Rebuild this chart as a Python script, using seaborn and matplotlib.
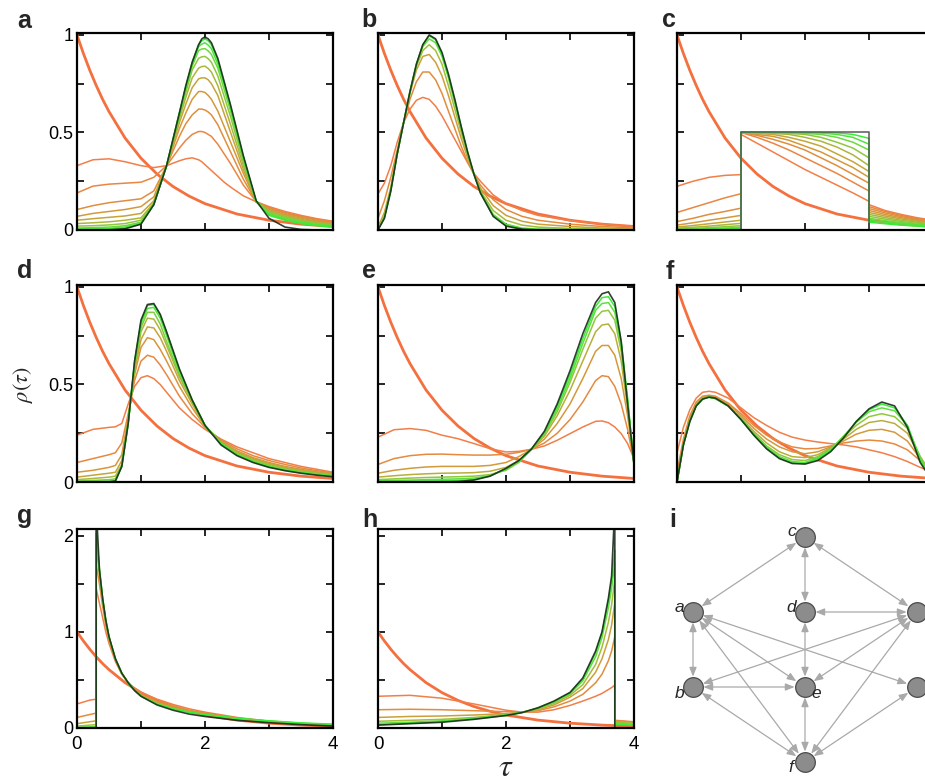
import numpy as np
import pandas as pd
import matplotlib
matplotlib.use("Agg")
import matplotlib.pyplot as plt
from matplotlib.colors import LinearSegmentedColormap
import seaborn as sns

# ---------------- data ----------------
TAU_EXP = [0, 0.1, 0.2, 0.3, 0.4, 0.5, 0.75, 1.0, 1.25, 1.5, 1.75, 2.0, 2.5, 3.0, 3.5, 4.0]
RHO_EXP = [1.0, 0.905, 0.819, 0.741, 0.670, 0.607, 0.472, 0.368, 0.287, 0.223, 0.174, 0.135, 0.082, 0.050, 0.030, 0.018]

TAU_A = [0, 0.25, 0.5, 0.75, 1.0, 1.2, 1.4, 1.6, 1.7, 1.8, 1.9, 1.95, 2.0, 2.05, 2.1, 2.2, 2.3, 2.4, 2.6, 2.8, 3.0, 3.25, 3.5, 3.75, 4.0]
TARGET_A = [0, 0, 0.001, 0.006, 0.03, 0.13, 0.33, 0.60, 0.74, 0.86, 0.95, 0.98, 0.99, 0.98, 0.96, 0.88, 0.76, 0.64, 0.38, 0.15, 0.06, 0.015, 0.003, 0, 0]
STEPS_A = [
    [0.33, 0.36, 0.365, 0.35, 0.33, 0.32, 0.33, 0.355, 0.365, 0.37, 0.36, 0.35, 0.335, 0.32, 0.305, 0.275, 0.245, 0.22, 0.175, 0.145, 0.12, 0.095, 0.075, 0.058, 0.045],
    [0.19, 0.225, 0.235, 0.24, 0.245, 0.27, 0.33, 0.42, 0.46, 0.49, 0.505, 0.505, 0.50, 0.49, 0.48, 0.44, 0.39, 0.34, 0.23, 0.145, 0.115, 0.09, 0.07, 0.055, 0.042],
    [0.105, 0.125, 0.14, 0.15, 0.16, 0.20, 0.33, 0.48, 0.545, 0.59, 0.62, 0.62, 0.615, 0.605, 0.59, 0.54, 0.47, 0.40, 0.26, 0.145, 0.11, 0.085, 0.066, 0.05, 0.038],
    [0.07, 0.085, 0.095, 0.105, 0.12, 0.17, 0.33, 0.52, 0.60, 0.67, 0.71, 0.71, 0.705, 0.69, 0.67, 0.61, 0.53, 0.45, 0.29, 0.145, 0.105, 0.08, 0.06, 0.045, 0.034],
    [0.05, 0.058, 0.065, 0.072, 0.085, 0.15, 0.33, 0.55, 0.645, 0.73, 0.775, 0.78, 0.78, 0.77, 0.75, 0.69, 0.595, 0.50, 0.31, 0.145, 0.10, 0.075, 0.055, 0.041, 0.03],
    [0.033, 0.037, 0.042, 0.05, 0.062, 0.14, 0.33, 0.57, 0.68, 0.78, 0.83, 0.838, 0.84, 0.828, 0.81, 0.74, 0.64, 0.54, 0.33, 0.145, 0.095, 0.07, 0.05, 0.037, 0.027],
    [0.02, 0.022, 0.026, 0.033, 0.05, 0.135, 0.33, 0.58, 0.705, 0.82, 0.88, 0.888, 0.89, 0.878, 0.86, 0.79, 0.685, 0.58, 0.35, 0.145, 0.09, 0.065, 0.046, 0.033, 0.024],
    [0.01, 0.012, 0.015, 0.022, 0.04, 0.13, 0.33, 0.59, 0.72, 0.84, 0.92, 0.928, 0.93, 0.918, 0.90, 0.83, 0.72, 0.61, 0.36, 0.145, 0.085, 0.06, 0.042, 0.03, 0.021],
    [0.005, 0.006, 0.008, 0.015, 0.035, 0.13, 0.33, 0.60, 0.73, 0.85, 0.94, 0.953, 0.96, 0.948, 0.93, 0.85, 0.745, 0.62, 0.37, 0.145, 0.08, 0.055, 0.038, 0.026, 0.018],
    [0.002, 0.003, 0.004, 0.01, 0.032, 0.13, 0.33, 0.60, 0.735, 0.86, 0.95, 0.97, 0.98, 0.97, 0.95, 0.87, 0.755, 0.63, 0.375, 0.148, 0.075, 0.05, 0.033, 0.022, 0.015],
]

TAU_B = [0, 0.1, 0.2, 0.3, 0.4, 0.5, 0.6, 0.7, 0.8, 0.9, 1.0, 1.1, 1.2, 1.3, 1.4, 1.5, 1.6, 1.8, 2.0, 2.25, 2.5, 3.0, 3.5, 4.0]
TARGET_B = [0, 0.06, 0.20, 0.39, 0.55, 0.71, 0.85, 0.95, 1.0, 0.98, 0.91, 0.80, 0.67, 0.53, 0.40, 0.285, 0.19, 0.07, 0.02, 0.004, 0, 0, 0, 0]
STEPS_B = [
    [0.185, 0.24, 0.33, 0.45, 0.55, 0.62, 0.665, 0.68, 0.67, 0.635, 0.585, 0.525, 0.465, 0.405, 0.345, 0.29, 0.25, 0.18, 0.135, 0.10, 0.075, 0.048, 0.03, 0.019],
    [0.06, 0.15, 0.27, 0.41, 0.55, 0.67, 0.76, 0.81, 0.81, 0.77, 0.70, 0.61, 0.52, 0.43, 0.35, 0.285, 0.23, 0.155, 0.105, 0.07, 0.05, 0.03, 0.018, 0.01],
    [0.015, 0.09, 0.22, 0.39, 0.55, 0.70, 0.82, 0.89, 0.90, 0.86, 0.79, 0.69, 0.58, 0.47, 0.37, 0.285, 0.215, 0.125, 0.075, 0.045, 0.03, 0.018, 0.01, 0.006],
    [0.005, 0.07, 0.21, 0.39, 0.55, 0.71, 0.84, 0.92, 0.95, 0.92, 0.85, 0.74, 0.62, 0.50, 0.385, 0.285, 0.20, 0.10, 0.05, 0.025, 0.015, 0.008, 0.004, 0.002],
    [0.002, 0.065, 0.205, 0.39, 0.55, 0.71, 0.85, 0.94, 0.98, 0.96, 0.89, 0.78, 0.65, 0.52, 0.39, 0.285, 0.195, 0.08, 0.03, 0.01, 0.005, 0.003, 0.002, 0.001],
    [0, 0.062, 0.20, 0.39, 0.55, 0.71, 0.85, 0.95, 0.995, 0.975, 0.90, 0.79, 0.665, 0.53, 0.40, 0.285, 0.19, 0.073, 0.024, 0.006, 0.002, 0.001, 0, 0],
]

TAU_C = [0, 0.25, 0.5, 0.75, 1.0, 1.0, 1.25, 1.5, 1.75, 2.0, 2.25, 2.5, 2.75, 3.0, 3.0, 3.25, 3.5, 3.75, 4.0]
TAU_C_TARGET = [0, 1, 1, 3, 3, 4]
TARGET_C = [0, 0, 0.5, 0.5, 0, 0]
STEPS_C = [
    [0.224, 0.25, 0.27, 0.28, 0.284, 0.49, 0.445, 0.40, 0.355, 0.31, 0.27, 0.23, 0.19, 0.147, 0.13, 0.10, 0.08, 0.063, 0.05],
    [0.09, 0.115, 0.14, 0.165, 0.186, 0.5, 0.475, 0.445, 0.41, 0.37, 0.33, 0.29, 0.245, 0.20, 0.12, 0.095, 0.075, 0.058, 0.046],
    [0.043, 0.06, 0.08, 0.095, 0.112, 0.5, 0.485, 0.465, 0.44, 0.41, 0.37, 0.33, 0.285, 0.24, 0.11, 0.088, 0.069, 0.054, 0.042],
    [0.025, 0.037, 0.05, 0.062, 0.075, 0.5, 0.49, 0.48, 0.46, 0.43, 0.40, 0.36, 0.32, 0.27, 0.10, 0.08, 0.063, 0.05, 0.039],
    [0.015, 0.023, 0.032, 0.041, 0.05, 0.5, 0.495, 0.49, 0.475, 0.455, 0.43, 0.39, 0.35, 0.30, 0.09, 0.072, 0.057, 0.045, 0.035],
    [0.009, 0.014, 0.02, 0.027, 0.034, 0.5, 0.5, 0.495, 0.49, 0.475, 0.455, 0.425, 0.385, 0.33, 0.08, 0.064, 0.05, 0.04, 0.031],
    [0.005, 0.008, 0.012, 0.017, 0.022, 0.5, 0.5, 0.5, 0.495, 0.49, 0.475, 0.45, 0.42, 0.37, 0.07, 0.056, 0.044, 0.035, 0.027],
    [0.003, 0.005, 0.007, 0.01, 0.014, 0.5, 0.5, 0.5, 0.5, 0.495, 0.49, 0.475, 0.45, 0.41, 0.06, 0.048, 0.038, 0.03, 0.023],
    [0.001, 0.002, 0.004, 0.006, 0.008, 0.5, 0.5, 0.5, 0.5, 0.5, 0.497, 0.49, 0.475, 0.44, 0.05, 0.04, 0.032, 0.025, 0.019],
    [0, 0.001, 0.002, 0.003, 0.004, 0.5, 0.5, 0.5, 0.5, 0.5, 0.5, 0.498, 0.49, 0.47, 0.04, 0.032, 0.025, 0.02, 0.015],
]

TAU_D = [0, 0.25, 0.5, 0.6, 0.7, 0.8, 0.9, 1.0, 1.1, 1.2, 1.3, 1.4, 1.6, 1.8, 2.0, 2.25, 2.5, 2.75, 3.0, 3.25, 3.5, 3.75, 4.0]
TARGET_D = [0, 0, 0, 0.005, 0.08, 0.30, 0.62, 0.83, 0.91, 0.915, 0.86, 0.77, 0.58, 0.42, 0.29, 0.19, 0.135, 0.10, 0.075, 0.058, 0.045, 0.035, 0.027]
STEPS_D = [
    [0.24, 0.27, 0.28, 0.283, 0.30, 0.40, 0.49, 0.535, 0.545, 0.53, 0.50, 0.46, 0.38, 0.32, 0.27, 0.22, 0.18, 0.15, 0.12, 0.10, 0.08, 0.065, 0.05],
    [0.10, 0.12, 0.14, 0.15, 0.20, 0.35, 0.52, 0.62, 0.65, 0.64, 0.60, 0.55, 0.44, 0.35, 0.28, 0.215, 0.17, 0.135, 0.11, 0.09, 0.072, 0.058, 0.046],
    [0.05, 0.06, 0.075, 0.085, 0.14, 0.33, 0.55, 0.69, 0.74, 0.73, 0.68, 0.62, 0.49, 0.38, 0.285, 0.21, 0.16, 0.125, 0.10, 0.08, 0.065, 0.052, 0.042],
    [0.025, 0.035, 0.045, 0.05, 0.11, 0.32, 0.57, 0.73, 0.795, 0.79, 0.74, 0.67, 0.52, 0.40, 0.285, 0.205, 0.155, 0.12, 0.095, 0.075, 0.06, 0.048, 0.039],
    [0.012, 0.018, 0.025, 0.03, 0.09, 0.31, 0.59, 0.77, 0.84, 0.835, 0.78, 0.70, 0.54, 0.41, 0.285, 0.20, 0.15, 0.115, 0.09, 0.07, 0.056, 0.045, 0.036],
    [0.005, 0.008, 0.012, 0.016, 0.085, 0.305, 0.60, 0.79, 0.87, 0.87, 0.81, 0.72, 0.55, 0.415, 0.29, 0.20, 0.145, 0.11, 0.085, 0.066, 0.052, 0.042, 0.034],
    [0.002, 0.003, 0.005, 0.008, 0.08, 0.30, 0.61, 0.81, 0.89, 0.895, 0.84, 0.75, 0.565, 0.42, 0.29, 0.20, 0.14, 0.105, 0.08, 0.062, 0.05, 0.04, 0.032],
    [0, 0, 0.001, 0.003, 0.08, 0.30, 0.62, 0.82, 0.905, 0.91, 0.855, 0.765, 0.575, 0.42, 0.29, 0.195, 0.138, 0.102, 0.077, 0.06, 0.047, 0.037, 0.03],
]

TAU_E = [0, 0.25, 0.5, 0.75, 1.0, 1.25, 1.5, 1.75, 2.0, 2.2, 2.4, 2.6, 2.8, 3.0, 3.2, 3.4, 3.5, 3.6, 3.7, 3.8, 3.9, 4.0]
TARGET_E = [0, 0, 0, 0, 0, 0.002, 0.01, 0.03, 0.07, 0.11, 0.17, 0.26, 0.40, 0.57, 0.76, 0.92, 0.965, 0.975, 0.92, 0.72, 0.40, 0.09]
STEPS_E = [
    [0.23, 0.268, 0.274, 0.265, 0.24, 0.222, 0.197, 0.171, 0.154, 0.157, 0.168, 0.185, 0.214, 0.248, 0.282, 0.311, 0.313, 0.304, 0.282, 0.248, 0.197, 0.12],
    [0.09, 0.12, 0.135, 0.142, 0.143, 0.14, 0.138, 0.138, 0.142, 0.152, 0.168, 0.20, 0.25, 0.32, 0.41, 0.52, 0.545, 0.54, 0.49, 0.40, 0.27, 0.10],
    [0.045, 0.06, 0.07, 0.077, 0.08, 0.08, 0.08, 0.085, 0.10, 0.13, 0.168, 0.22, 0.30, 0.40, 0.53, 0.67, 0.70, 0.70, 0.65, 0.53, 0.34, 0.10],
    [0.025, 0.032, 0.038, 0.042, 0.045, 0.046, 0.048, 0.055, 0.075, 0.11, 0.168, 0.235, 0.34, 0.47, 0.62, 0.77, 0.805, 0.81, 0.76, 0.62, 0.38, 0.095],
    [0.012, 0.016, 0.02, 0.023, 0.025, 0.027, 0.03, 0.038, 0.06, 0.10, 0.168, 0.245, 0.36, 0.51, 0.68, 0.84, 0.875, 0.88, 0.83, 0.67, 0.41, 0.09],
    [0.006, 0.008, 0.01, 0.012, 0.014, 0.016, 0.02, 0.033, 0.065, 0.105, 0.168, 0.25, 0.375, 0.53, 0.71, 0.88, 0.915, 0.92, 0.87, 0.70, 0.42, 0.09],
    [0.002, 0.003, 0.004, 0.005, 0.006, 0.008, 0.013, 0.03, 0.068, 0.107, 0.17, 0.255, 0.39, 0.55, 0.735, 0.90, 0.945, 0.95, 0.90, 0.72, 0.43, 0.09],
]

TAU_F = [0, 0.1, 0.2, 0.3, 0.4, 0.5, 0.6, 0.8, 1.0, 1.2, 1.4, 1.6, 1.8, 2.0, 2.2, 2.4, 2.6, 2.8, 3.0, 3.2, 3.4, 3.6, 3.8, 4.0]
TARGET_F = [0, 0.19, 0.31, 0.39, 0.425, 0.435, 0.43, 0.39, 0.32, 0.24, 0.17, 0.12, 0.095, 0.092, 0.11, 0.155, 0.225, 0.31, 0.375, 0.41, 0.39, 0.28, 0.10, 0.0]
STEPS_F = [
    [0.15, 0.28, 0.37, 0.43, 0.46, 0.465, 0.46, 0.43, 0.38, 0.33, 0.29, 0.255, 0.23, 0.215, 0.205, 0.197, 0.19, 0.18, 0.165, 0.15, 0.13, 0.105, 0.075, 0.05],
    [0.05, 0.22, 0.34, 0.41, 0.44, 0.445, 0.44, 0.405, 0.35, 0.29, 0.24, 0.205, 0.18, 0.17, 0.172, 0.185, 0.20, 0.21, 0.215, 0.21, 0.195, 0.165, 0.11, 0.06],
    [0, 0.2, 0.33, 0.40, 0.435, 0.44, 0.435, 0.40, 0.34, 0.275, 0.22, 0.18, 0.155, 0.145, 0.155, 0.18, 0.21, 0.245, 0.265, 0.27, 0.255, 0.21, 0.12, 0.04],
    [0, 0.195, 0.32, 0.395, 0.43, 0.437, 0.43, 0.39, 0.33, 0.26, 0.20, 0.155, 0.13, 0.125, 0.14, 0.175, 0.22, 0.27, 0.305, 0.315, 0.30, 0.25, 0.13, 0.03],
    [0, 0.19, 0.315, 0.39, 0.428, 0.435, 0.428, 0.39, 0.325, 0.25, 0.185, 0.14, 0.115, 0.11, 0.13, 0.17, 0.23, 0.29, 0.335, 0.35, 0.335, 0.275, 0.13, 0.02],
    [0, 0.19, 0.31, 0.39, 0.426, 0.435, 0.427, 0.39, 0.322, 0.245, 0.178, 0.13, 0.105, 0.10, 0.125, 0.165, 0.235, 0.305, 0.36, 0.38, 0.365, 0.29, 0.12, 0.01],
    [0, 0.19, 0.31, 0.39, 0.425, 0.435, 0.428, 0.39, 0.32, 0.242, 0.172, 0.123, 0.098, 0.095, 0.118, 0.16, 0.225, 0.31, 0.37, 0.40, 0.38, 0.29, 0.11, 0.005],
]

TAU_G = [0, 0.1, 0.2, 0.3, 0.3, 0.35, 0.4, 0.45, 0.5, 0.6, 0.7, 0.8, 0.9, 1.0, 1.25, 1.5, 1.75, 2.0, 2.5, 3.0, 3.5, 4.0]
TARGET_G = [0, 0, 0, 0, 2.3, 1.65, 1.35, 1.12, 0.95, 0.72, 0.57, 0.47, 0.39, 0.33, 0.24, 0.185, 0.145, 0.12, 0.08, 0.055, 0.035, 0.02]
STEPS_G = [
    [0.25, 0.27, 0.29, 0.30, 1.45, 1.3, 1.15, 1.0, 0.88, 0.69, 0.56, 0.475, 0.41, 0.37, 0.30, 0.245, 0.20, 0.165, 0.11, 0.07, 0.04, 0.022],
    [0.11, 0.125, 0.14, 0.155, 1.7, 1.5, 1.27, 1.07, 0.92, 0.71, 0.565, 0.472, 0.40, 0.35, 0.28, 0.23, 0.185, 0.155, 0.10, 0.065, 0.042, 0.028],
    [0.045, 0.055, 0.065, 0.075, 1.9, 1.6, 1.33, 1.1, 0.94, 0.715, 0.567, 0.47, 0.395, 0.34, 0.265, 0.215, 0.175, 0.145, 0.10, 0.068, 0.045, 0.03],
    [0.02, 0.025, 0.03, 0.035, 2.0, 1.63, 1.34, 1.11, 0.945, 0.718, 0.568, 0.47, 0.392, 0.335, 0.255, 0.205, 0.168, 0.14, 0.10, 0.07, 0.048, 0.033],
    [0.008, 0.01, 0.012, 0.015, 2.03, 1.65, 1.35, 1.12, 0.95, 0.72, 0.57, 0.47, 0.39, 0.333, 0.25, 0.2, 0.165, 0.14, 0.10, 0.072, 0.05, 0.036],
    [0.002, 0.003, 0.004, 0.005, 2.05, 1.66, 1.35, 1.12, 0.95, 0.72, 0.57, 0.468, 0.388, 0.33, 0.248, 0.198, 0.165, 0.14, 0.102, 0.075, 0.053, 0.04],
]

TAU_H = [0, 0.5, 1.0, 1.5, 2.0, 2.25, 2.5, 2.75, 3.0, 3.2, 3.4, 3.5, 3.6, 3.65, 3.7, 3.7, 4.0]
TARGET_H = [0.03, 0.045, 0.06, 0.09, 0.13, 0.16, 0.21, 0.28, 0.37, 0.52, 0.80, 1.0, 1.35, 1.58, 2.3, 0, 0]
STEPS_H = [
    [0.33, 0.34, 0.31, 0.25, 0.185, 0.165, 0.165, 0.19, 0.235, 0.28, 0.33, 0.36, 0.40, 0.42, 0.445, 0.08, 0.065],
    [0.19, 0.195, 0.19, 0.18, 0.17, 0.167, 0.18, 0.22, 0.28, 0.35, 0.47, 0.56, 0.70, 0.80, 0.95, 0.075, 0.06],
    [0.11, 0.12, 0.125, 0.135, 0.15, 0.165, 0.19, 0.24, 0.32, 0.41, 0.58, 0.72, 0.92, 1.07, 1.30, 0.07, 0.055],
    [0.07, 0.08, 0.09, 0.11, 0.14, 0.163, 0.20, 0.255, 0.34, 0.45, 0.66, 0.84, 1.10, 1.28, 1.55, 0.06, 0.05],
    [0.05, 0.06, 0.075, 0.10, 0.135, 0.162, 0.205, 0.27, 0.355, 0.49, 0.74, 0.94, 1.25, 1.45, 1.72, 0.05, 0.04],
    [0.035, 0.05, 0.065, 0.095, 0.13, 0.16, 0.21, 0.275, 0.365, 0.51, 0.78, 0.99, 1.32, 1.52, 1.85, 0.04, 0.03],
]

PANEL_LETTERS = ["a", "b", "c", "d", "e", "f", "g", "h", "i"]
X_TICKS = [0, 1, 2, 3, 4]
X_TICK_LABELS = ["0", "", "2", "", "4"]
Y_TICKS_1 = [0, 0.25, 0.5, 0.75, 1.0]
Y_TICK_LABELS_1 = ["0", "", "0.5", "", "1"]
Y_TICKS_2 = [0, 0.5, 1.0, 1.5, 2.0]
Y_TICK_LABELS_2 = ["0", "", "1", "", "2"]

NODE_NAMES = ["a", "b", "c", "d", "e", "f", "g", "h"]
NODE_COL = [0, 0, 1, 1, 1, 1, 2, 2]
NODE_ROW = [2, 1, 3, 2, 1, 0, 2, 1]
EDGES = [("c", "a"), ("c", "d"), ("c", "g"), ("a", "b"), ("a", "e"), ("a", "f"), ("a", "h"),
         ("g", "d"), ("d", "e"), ("g", "b"), ("g", "e"), ("g", "f"), ("b", "e"), ("b", "f"),
         ("e", "f"), ("f", "h")]

# ---------------- style ----------------
sns.set_theme(style="ticks")
plt.rcParams["font.family"] = ["Liberation Sans", "DejaVu Sans"]
plt.rcParams["mathtext.fontset"] = "stix"

EXP_COLOR = "#F4703E"
TARGET_COLOR = "#1B2A1B"
CMAP = LinearSegmentedColormap.from_list(
    "og", ["#F27E48", "#E28C3D", "#CBA03A", "#A5BC3C", "#66DC40", "#38EC38"])

W, H = 925, 783
fig = plt.figure(figsize=(W / 100, H / 100), dpi=100)


def px_axes(x0, y0, x1, y1):
    return fig.add_axes([x0 / W, 1 - y1 / H, (x1 - x0) / W, (y1 - y0) / H])


COLS = [(77, 333), (378, 634), (677, 933)]
ROWS = [(33, 230), (285, 482), (529, 728)]

PANELS = [
    (TAU_A, STEPS_A, TAU_A, TARGET_A),
    (TAU_B, STEPS_B, TAU_B, TARGET_B),
    (TAU_C, STEPS_C, TAU_C_TARGET, TARGET_C),
    (TAU_D, STEPS_D, TAU_D, TARGET_D),
    (TAU_E, STEPS_E, TAU_E, TARGET_E),
    (TAU_F, STEPS_F, TAU_F, TARGET_F),
    (TAU_G, STEPS_G, TAU_G, TARGET_G),
    (TAU_H, STEPS_H, TAU_H, TARGET_H),
]

for idx, (tau, steps, ttau, target) in enumerate(PANELS):
    r, c = divmod(idx, 3)
    ax = px_axes(COLS[c][0], ROWS[r][0], COLS[c][1], ROWS[r][1])
    big = r == 2
    # exponential start
    sns.lineplot(x=TAU_EXP, y=RHO_EXP, ax=ax, color=EXP_COLOR, lw=2.0,
                 estimator=None, sort=False)
    # intermediate steps
    rows = []
    for k, s in enumerate(steps):
        for t, v in zip(tau, s):
            rows.append((k, t, v))
    df = pd.DataFrame(rows, columns=["curve", "tau", "rho"])
    pal = [CMAP(v) for v in np.linspace(0, 1, len(steps))]
    sns.lineplot(data=df, x="tau", y="rho", hue="curve", palette=pal, ax=ax,
                 estimator=None, sort=False, legend=False, lw=1.1)
    # target
    tcol = "#555555" if idx == 2 else TARGET_COLOR
    sns.lineplot(x=ttau, y=target, ax=ax, color=tcol, lw=1.2, alpha=0.9,
                 estimator=None, sort=False)

    ax.set_xlim(0, 4)
    ax.set_ylim(0, 2.07 if big else 1.01)
    ax.set_xticks(X_TICKS)
    ax.set_yticks(Y_TICKS_2 if big else Y_TICKS_1)
    ax.set_xticklabels(X_TICK_LABELS if big else [])
    if c == 0:
        ax.set_yticklabels(Y_TICK_LABELS_2 if big else Y_TICK_LABELS_1)
    else:
        ax.set_yticklabels([])
    ax.tick_params(direction="in", length=5, width=1.2, top=True, right=True,
                   bottom=True, left=True, colors="black")
    ax.tick_params(axis="y", labelsize=13, pad=2.5)
    ax.tick_params(axis="x", labelsize=13.5, pad=6)
    ax.set_xlabel("")
    ax.set_ylabel("")
    for sp in ax.spines.values():
        sp.set_linewidth(1.6)
        sp.set_color("black")

# panel letters
LETTER_POS = [(17, 28), (361, 27), (662, 27), (17, 278), (362, 278), (666, 279),
              (17, 523), (362, 527), (669, 527)]
for lt, (x, y) in zip(PANEL_LETTERS, LETTER_POS):
    fig.text(x / W, 1 - y / H, lt, fontsize=18, fontweight="bold",
             ha="left", va="baseline")

# axis labels
fig.text(23 / W, 1 - 385 / H, r"$\rho(\tau)$", rotation=90, fontsize=16,
         ha="center", va="center")
fig.text(506 / W, 1 - 776 / H, r"$\tau$", fontsize=23, ha="center", va="baseline")

# ---------------- network panel i ----------------
axn = px_axes(640, 500, 925, 783)
axn.set_xlim((640 - 693) / 112, (925 - 693) / 112)
axn.set_ylim(-(783 - 762) / 75, 3 + (537 - 500) / 75)
axn.axis("off")
pos = {n: (cx, ry) for n, cx, ry in zip(NODE_NAMES, NODE_COL, NODE_ROW)}
for u, v in EDGES:
    axn.annotate("", xy=pos[v], xytext=pos[u],
                 arrowprops=dict(arrowstyle="<|-|>,head_length=0.45,head_width=0.18",
                                 color="#A9A9A9", lw=0.9, shrinkA=7.5, shrinkB=7.5),
                 zorder=1)
sns.scatterplot(x=NODE_COL, y=NODE_ROW, ax=axn, s=200, color="#8C8C8C",
                edgecolor="#4A4A4A", linewidth=0.9, zorder=3, legend=False)
LABEL_OFF = {"a": (-14, -5), "b": (-13, 6), "c": (-13, -5), "d": (-14, -5),
             "e": (11, 7), "f": (-14, 6), "g": (14, -5), "h": (14, 6)}
for n in NODE_NAMES:
    dx, dy = LABEL_OFF[n]
    axn.annotate(n, pos[n], xytext=(dx * 0.72, -dy * 0.72), textcoords="offset points",
                 ha="center", va="center", fontsize=12.5, fontstyle="italic",
                 annotation_clip=False)

fig.savefig("out.png", dpi=100)
